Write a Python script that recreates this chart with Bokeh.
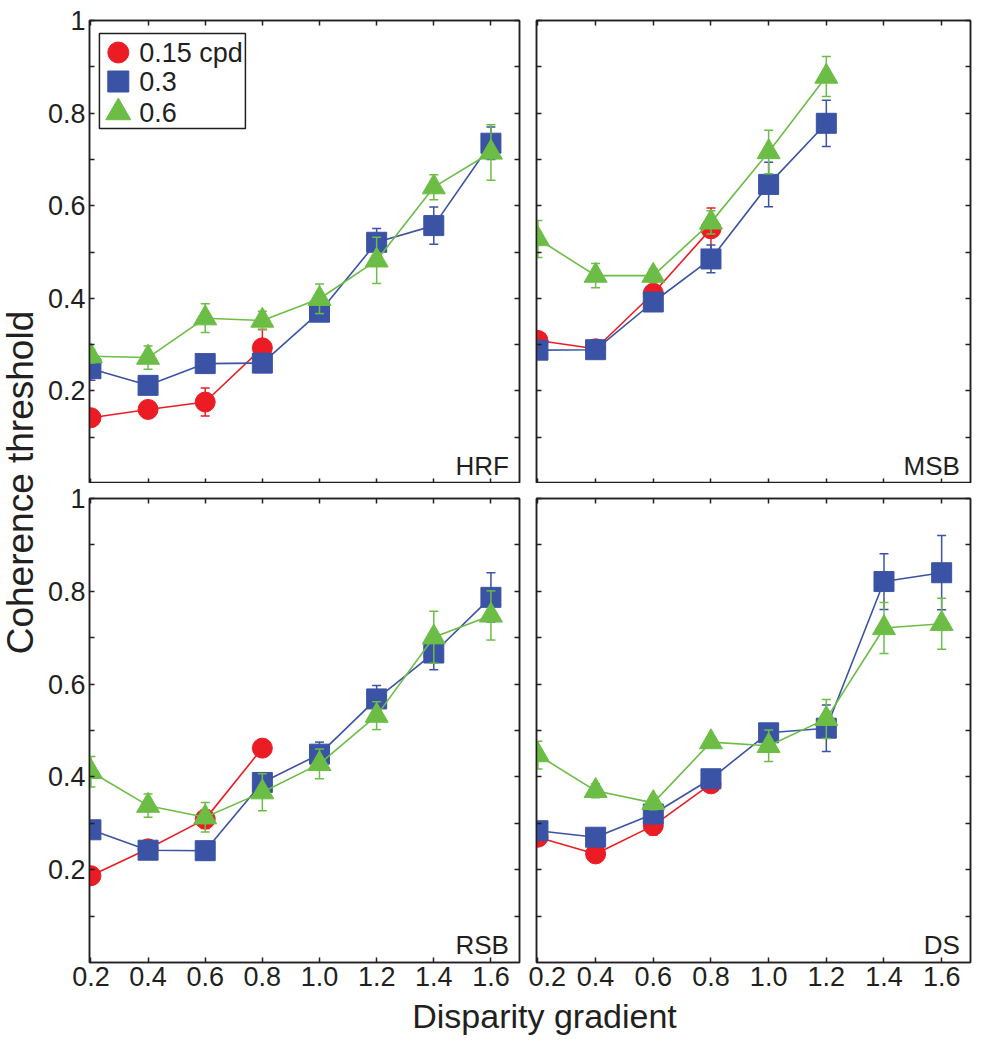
import math
from bokeh.plotting import figure
from bokeh.layouts import column, row
from bokeh.models import (Range1d, LinearAxis, FixedTicker, CustomJSTickFormatter,
                          Label, ColumnDataSource)
from bokeh.core.properties import value
from bokeh.embed import file_html
from bokeh.resources import INLINE

# ---------------- data ----------------
X = [0.2, 0.4, 0.6, 0.8, 1.0, 1.2, 1.4, 1.6]
X_TICKS = [0.2, 0.4, 0.6, 0.8, 1.0, 1.2, 1.4, 1.6]
Y_TICKS = [0.2, 0.4, 0.6, 0.8, 1.0]
Y_MINOR = [0.1, 0.3, 0.5, 0.7, 0.9]
SERIES = ["0.15 cpd", "0.3", "0.6"]
PANELS = ["HRF", "MSB", "RSB", "DS"]

hrf_red = [0.142, 0.160, 0.176, 0.293]
hrf_red_err = [0.010, 0.010, 0.030, 0.040]
hrf_blue = [0.248, 0.212, 0.259, 0.260, 0.370, 0.521, 0.557, 0.735]
hrf_blue_err = [0.025, 0.015, 0.015, 0.020, 0.015, 0.030, 0.040, 0.035]
hrf_green = [0.275, 0.272, 0.357, 0.352, 0.399, 0.482, 0.640, 0.715]
hrf_green_err = [0.015, 0.025, 0.031, 0.020, 0.032, 0.050, 0.027, 0.060]

msb_red = [0.309, 0.291, 0.411, 0.550]
msb_red_err = [0.010, 0.010, 0.015, 0.045]
msb_blue = [0.288, 0.289, 0.392, 0.485, 0.646, 0.778]
msb_blue_err = [0.010, 0.010, 0.015, 0.030, 0.048, 0.050]
msb_green = [0.528, 0.449, 0.449, 0.564, 0.716, 0.879]
msb_green_err = [0.040, 0.026, 0.015, 0.025, 0.047, 0.043]

rsb_red = [0.187, 0.245, 0.309, 0.462]
rsb_red_err = [0.010, 0.010, 0.020, 0.015]
rsb_blue = [0.286, 0.242, 0.241, 0.388, 0.449, 0.568, 0.667, 0.787]
rsb_blue_err = [0.010, 0.010, 0.020, 0.015, 0.026, 0.029, 0.036, 0.053]
rsb_green = [0.411, 0.338, 0.313, 0.367, 0.428, 0.532, 0.701, 0.748]
rsb_green_err = [0.033, 0.025, 0.032, 0.040, 0.032, 0.030, 0.056, 0.053]

ds_red = [0.270, 0.234, 0.295, 0.385]
ds_red_err = [0.010, 0.010, 0.020, 0.012]
ds_blue = [0.284, 0.270, 0.320, 0.396, 0.495, 0.505, 0.821, 0.840]
ds_blue_err = [0.010, 0.010, 0.015, 0.010, 0.010, 0.050, 0.060, 0.080]
ds_green = [0.447, 0.370, 0.344, 0.475, 0.467, 0.525, 0.721, 0.730]
ds_green_err = [0.030, 0.015, 0.015, 0.010, 0.034, 0.042, 0.055, 0.055]

PANEL_DATA = {
    "HRF": [(hrf_red, hrf_red_err), (hrf_blue, hrf_blue_err), (hrf_green, hrf_green_err)],
    "MSB": [(msb_red, msb_red_err), (msb_blue, msb_blue_err), (msb_green, msb_green_err)],
    "RSB": [(rsb_red, rsb_red_err), (rsb_blue, rsb_blue_err), (rsb_green, rsb_green_err)],
    "DS": [(ds_red, ds_red_err), (ds_blue, ds_blue_err), (ds_green, ds_green_err)],
}

# ---------------- style / layout ----------------
INK = "#231f20"
FONT = "Liberation Sans"
COLORS = ["#ec1c24", "#3a53a4", "#6cbd45"]
MARKERS = ["circle", "square", "triangle"]
MSIZES = [20, 20, 23]
LEG_MSIZES = [21, 21, 25]
X_START, X_END = 0.195, 1.70
Y_START, Y_END = 0.0, 1.0
TICK_FS = "27px"
FRAME_W, FRAME_H = 433, 463
# legend geometry, in pixels from the frame's top-left corner
LEG_BOX = (10, 157, 13, 108)      # left, right, top, bottom
LEG_MARK_X = 29
LEG_TEXT_X = 50
LEG_ROW_Y = [32, 61, 92]


def style_axis(ax, show_labels, minor=False):
    ax.axis_line_color = INK
    ax.axis_line_width = 1.5
    ax.major_tick_line_color = INK
    ax.major_tick_line_width = 1.5
    ax.major_tick_in = 5
    ax.major_tick_out = 0
    ax.minor_tick_line_color = INK if minor else None
    ax.minor_tick_line_width = 1.5
    ax.minor_tick_in = 5
    ax.minor_tick_out = 0
    ax.major_label_text_font = FONT
    ax.major_label_text_color = INK
    ax.axis_label = None
    if show_labels:
        ax.major_label_text_font_size = TICK_FS
        ax.major_label_standoff = 4
    else:
        ax.major_label_text_font_size = "0px"
        ax.major_label_standoff = 0
        ax.formatter = CustomJSTickFormatter(code="return '';")


def add_legend(p):
    p.extra_x_ranges = {"lg": Range1d(0, FRAME_W)}
    p.extra_y_ranges = {"lg": Range1d(FRAME_H, 0)}
    l, r, t, b = LEG_BOX
    box = ColumnDataSource(dict(left=[l], right=[r], top=[t], bottom=[b]))
    p.quad(left="left", right="right", top="top", bottom="bottom", source=box,
           fill_color="white", line_color=INK, line_width=1.5,
           x_range_name="lg", y_range_name="lg")
    for i, name in enumerate(SERIES):
        src = ColumnDataSource(dict(x=[LEG_MARK_X], y=[LEG_ROW_Y[i]],
                                    tx=[LEG_TEXT_X], label=[name]))
        p.scatter(x="x", y="y", marker=MARKERS[i], size=LEG_MSIZES[i], source=src,
                  fill_color=COLORS[i], line_color=COLORS[i],
                  x_range_name="lg", y_range_name="lg")
        p.text(x="tx", y="y", text="label", source=src,
               text_font=value(FONT), text_font_size=value("27px"),
               text_color=INK, text_baseline="middle", text_align="left",
               x_range_name="lg", y_range_name="lg")


def make_panel(name, show_x, show_y, width, height, bl, br, bt, bb, legend=False):
    p = figure(width=width, height=height,
               x_range=Range1d(X_START, X_END), y_range=Range1d(Y_START, Y_END),
               output_backend="svg", toolbar_location=None,
               min_border_left=bl, min_border_right=br,
               min_border_top=bt, min_border_bottom=bb)
    p.grid.visible = False
    p.outline_line_color = INK
    p.outline_line_width = 1.5
    p.background_fill_color = "white"
    p.border_fill_color = "white"

    p.xaxis.ticker = FixedTicker(ticks=X_TICKS, minor_ticks=[])
    p.yaxis.ticker = FixedTicker(ticks=Y_TICKS, minor_ticks=Y_MINOR)
    p.xaxis.formatter = CustomJSTickFormatter(code="return tick.toFixed(1);")
    p.yaxis.formatter = CustomJSTickFormatter(
        code="return Math.abs(tick - 1) < 1e-9 ? '1' : tick.toFixed(1);")
    style_axis(p.xaxis[0], show_x)
    style_axis(p.yaxis[0], show_y, minor=True)

    top = LinearAxis(ticker=FixedTicker(ticks=X_TICKS, minor_ticks=[]))
    style_axis(top, False)
    p.add_layout(top, "above")
    right = LinearAxis(ticker=FixedTicker(ticks=Y_TICKS, minor_ticks=Y_MINOR))
    style_axis(right, False, minor=True)
    p.add_layout(right, "right")

    for i, (vals, errs) in enumerate(PANEL_DATA[name]):
        xs = X[:len(vals)]
        src = ColumnDataSource(dict(
            x=xs, y=vals,
            lo=[v - e for v, e in zip(vals, errs)],
            hi=[v + e for v, e in zip(vals, errs)]))
        c = COLORS[i]
        p.segment(x0="x", y0="lo", x1="x", y1="hi", source=src,
                  line_color=c, line_width=1.5)
        p.scatter(x="x", y="hi", marker="dash", size=9, source=src,
                  line_color=c, line_width=1.5)
        p.scatter(x="x", y="lo", marker="dash", size=9, source=src,
                  line_color=c, line_width=1.5)
        p.line(x="x", y="y", source=src, line_color=c, line_width=1.6)
        p.scatter(x="x", y="y", marker=MARKERS[i], size=MSIZES[i], source=src,
                  fill_color=c, line_color=c, line_width=1)

    p.add_layout(Label(x=X_END - 0.037, y=0.037, text=name,
                       text_align="right", text_baseline="alphabetic",
                       text_font=FONT, text_font_size="26px", text_color=INK))
    if legend:
        add_legend(p)
    return p


p1 = make_panel("HRF", False, True, 484, 483, 42, 9, 20, 0, legend=True)
p2 = make_panel("MSB", False, False, 454, 483, 8, 12, 20, 0)
p3 = make_panel("RSB", True, True, 484, 515, 42, 9, 15, 36)
p4 = make_panel("DS", True, False, 454, 515, 8, 12, 15, 36)


def text_fig(w, h, x, y, text, size, angle=0.0):
    f = figure(width=w, height=h, x_range=Range1d(0, 1), y_range=Range1d(0, 1),
               x_axis_type=None, y_axis_type=None, output_backend="svg",
               toolbar_location=None, min_border=0, outline_line_color=None)
    f.grid.visible = False
    f.add_layout(Label(x=x, y=y, text=text, angle=angle, text_align="center",
                       text_baseline="middle", text_font=FONT,
                       text_font_size=size, text_color=INK))
    return f


ylab = text_fig(44, 998, 0.4545, 0.517, "Coherence threshold", "37px", angle=math.pi / 2)
xlab = text_fig(982, 46, 0.554, 0.630, "Disparity gradient", "34px")

layout = column(row(ylab, column(row(p1, p2), row(p3, p4))), xlab)

open("out.html", "w").write(file_html(layout, INLINE))
